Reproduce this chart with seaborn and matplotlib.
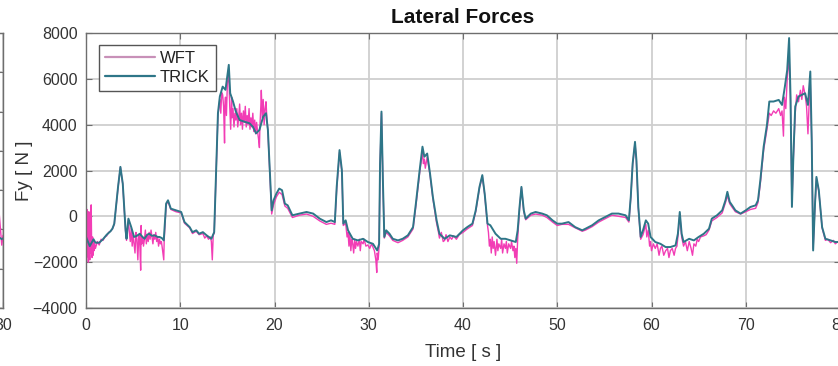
import matplotlib
matplotlib.use("Agg")
import matplotlib.pyplot as plt
import seaborn as sns

# ---------------- data ----------------
trick_t = [
    0.0, 0.4, 0.8, 1.0, 1.4, 1.8, 2.2, 2.6, 2.8, 3.0,
    3.4, 3.65, 3.9, 4.2, 4.3, 4.5, 4.8, 5.1, 5.4, 5.7,
    6.0, 6.2, 6.5, 6.7, 7.0, 7.3, 7.6, 7.8, 8.05, 8.25,
    8.5, 8.7, 9.0, 9.55, 10.1, 10.45, 11.0, 11.3, 11.7, 12.0,
    12.4, 12.8, 13.3, 13.6, 13.8, 14.0, 14.2, 14.5, 14.8, 15.15,
    15.3, 15.6, 15.9, 16.3, 16.8, 17.35, 17.7, 18.05, 18.4, 18.8,
    19.1, 19.3, 19.5, 19.7, 19.9, 20.2, 20.5, 20.8, 21.1, 21.4,
    21.9, 22.65, 23.4, 24.1, 24.8, 25.5, 26.0, 26.4, 26.6, 26.9,
    27.15, 27.3, 27.55, 27.8, 28.3, 28.85, 29.4, 29.9, 30.45, 30.9,
    31.1, 31.2, 31.35, 31.5, 31.65, 31.85, 32.2, 32.55, 33.1, 33.6,
    34.15, 34.7, 35.0, 35.4, 35.7, 35.9, 36.2, 36.5, 36.8, 37.2,
    37.5, 38.05, 38.6, 39.3, 40.0, 40.45, 41.0, 41.35, 41.75, 42.05,
    42.3, 42.6, 42.9, 43.45, 44.0, 44.5, 45.05, 45.6, 45.8, 46.0,
    46.2, 46.45, 46.65, 47.2, 47.7, 48.4, 48.9, 49.5, 50.0, 50.5,
    51.2, 51.9, 52.65, 53.0, 53.7, 54.4, 55.1, 55.8, 56.5, 57.25,
    57.6, 57.8, 58.0, 58.25, 58.4, 58.6, 58.85, 59.1, 59.4, 59.65,
    59.9, 60.4, 60.95, 61.5, 62.0, 62.55, 62.8, 63.0, 63.2, 63.4,
    64.0, 64.5, 65.0, 65.55, 66.1, 66.4, 66.95, 67.5, 67.85, 68.05,
    68.3, 68.55, 68.9, 69.45, 70.0, 70.5, 71.05, 71.3, 71.55, 71.9,
    72.25, 72.5, 72.95, 73.5, 73.85, 74.15, 74.4, 74.6, 74.75, 74.9,
    75.05, 75.25, 75.6, 75.95, 76.3, 76.6, 76.85, 77.0, 77.15, 77.35,
    77.5, 77.75, 78.1, 78.45, 79.0, 79.5, 80.0,
]
trick_fy = [
    -900, -1300, -1000, -1150, -1150, -1000, -800, -650, -540, -320,
    1285, 2160, 1430, -610, -980, -100, -470, -900, -850, -760,
    -900, -980, -800, -760, -850, -830, -900, -900, -950, -1050,
    555, 700, 335, 260, 190, -250, -470, -690, -610, -760,
    -690, -830, -980, -690, 1870, 4500, 5230, 5660, 5520, 6610,
    5370, 5010, 4570, 4200, 4130, 4060, 3910, 3620, 3770, 4350,
    4500, 3770, 2010, 260, 700, 990, 1210, 1140, 555, 480,
    45, 120, 190, 120, -100, -250, -175, -250, 1285, 2890,
    2010, -320, -175, -610, -980, -1050, -980, -1120, -1200, -1490,
    -1200, 2300, 4570, 1580, -900, -610, -760, -980, -1050, -980,
    -830, -470, 555, 2010, 3040, 2600, 2740, 1870, 850, -175,
    -760, -980, -830, -900, -610, -470, -320, 260, 1285, 1800,
    990, -320, -390, -760, -980, -980, -1050, -1120, -610, 410,
    1285, 260, -100, 120, 190, 120, 45, -175, -320, -320,
    -250, -470, -610, -540, -390, -175, -30, 120, 120, 45,
    -175, 850, 2300, 3250, 2450, 410, -900, -610, -175, -320,
    -900, -1120, -1200, -1340, -1340, -1270, -760, 190, -760, -1120,
    -980, -1050, -900, -760, -540, -100, 45, 260, 700, 1070,
    630, 480, 260, 120, 260, 410, 480, 700, 1580, 3040,
    3990, 5010, 5010, 5080, 4860, 5660, 6390, 7780, 5230, 410,
    2600, 4790, 5230, 5300, 5370, 4860, 6320, 3330, -1490, 555,
    1720, 1140, -470, -980, -1050, -1120, -1120,
]

wft_t = [
    0.0, 0.05, 0.1, 0.15, 0.2, 0.25, 0.3, 0.35, 0.4, 0.45,
    0.5, 0.55, 0.6, 0.65, 0.7, 0.75, 0.8, 0.85, 0.9, 1.0,
    1.2, 1.4, 1.6, 1.8, 2.0, 2.2, 2.4, 2.6, 2.8, 3.0,
    3.4, 3.65, 3.9, 4.2, 4.3, 4.5, 4.6, 4.7, 4.8, 4.9,
    5.0, 5.1, 5.2, 5.3, 5.4, 5.5, 5.6, 5.7, 5.8, 5.85,
    5.9, 6.0, 6.1, 6.2, 6.3, 6.4, 6.5, 6.6, 6.7, 6.8,
    6.9, 7.0, 7.1, 7.2, 7.3, 7.4, 7.5, 7.6, 7.7, 7.8,
    7.9, 8.0, 8.1, 8.25, 8.3, 8.5, 8.7, 9.0, 9.55, 10.1,
    10.45, 11.0, 11.3, 11.7, 12.0, 12.4, 12.6, 12.8, 13.0, 13.2,
    13.3, 13.4, 13.5, 13.6, 13.8, 14.0, 14.2, 14.3, 14.4, 14.5,
    14.6, 14.7, 14.75, 14.8, 14.9, 15.0, 15.15, 15.25, 15.35, 15.45,
    15.5, 15.6, 15.7, 15.8, 15.9, 16.0, 16.1, 16.2, 16.3, 16.4,
    16.5, 16.6, 16.7, 16.8, 16.9, 17.0, 17.1, 17.2, 17.3, 17.4,
    17.5, 17.6, 17.7, 17.8, 17.9, 18.0, 18.1, 18.2, 18.3, 18.4,
    18.45, 18.55, 18.6, 18.7, 18.8, 18.9, 19.0, 19.1, 19.2, 19.3,
    19.5, 19.7, 19.9, 20.2, 20.5, 20.8, 21.1, 21.4, 21.9, 22.65,
    23.4, 24.1, 24.8, 25.5, 26.0, 26.4, 26.6, 26.9, 27.15, 27.3,
    27.55, 27.7, 27.8, 27.9, 28.0, 28.1, 28.2, 28.3, 28.4, 28.5,
    28.6, 28.7, 28.85, 29.0, 29.1, 29.2, 29.4, 29.5, 29.7, 29.9,
    30.1, 30.3, 30.45, 30.6, 30.75, 30.85, 30.9, 31.0, 31.1, 31.2,
    31.35, 31.5, 31.65, 31.85, 32.2, 32.55, 33.1, 33.6, 34.15, 34.7,
    35.0, 35.4, 35.7, 35.8, 35.9, 36.0, 36.2, 36.5, 36.8, 37.2,
    37.4, 37.5, 37.7, 37.9, 38.05, 38.2, 38.4, 38.6, 38.8, 39.0,
    39.3, 39.6, 40.0, 40.45, 41.0, 41.35, 41.75, 42.05, 42.3, 42.6,
    42.7, 42.8, 42.9, 43.0, 43.1, 43.2, 43.3, 43.45, 43.6, 43.7,
    43.8, 44.0, 44.1, 44.2, 44.35, 44.5, 44.6, 44.7, 44.85, 45.05,
    45.15, 45.3, 45.4, 45.5, 45.6, 45.7, 45.8, 46.0, 46.2, 46.45,
    46.65, 47.2, 47.7, 48.4, 48.9, 49.5, 50.0, 50.5, 51.2, 51.9,
    52.65, 53.0, 53.7, 54.4, 55.1, 55.8, 56.5, 57.25, 57.6, 57.8,
    58.0, 58.25, 58.4, 58.6, 58.85, 59.1, 59.4, 59.5, 59.65, 59.8,
    59.9, 60.0, 60.2, 60.4, 60.6, 60.8, 60.95, 61.1, 61.3, 61.5,
    61.7, 61.85, 62.0, 62.2, 62.4, 62.55, 62.7, 62.8, 63.0, 63.2,
    63.4, 63.6, 63.8, 64.0, 64.2, 64.35, 64.5, 64.7, 64.85, 65.0,
    65.2, 65.55, 65.8, 66.1, 66.4, 66.95, 67.5, 67.85, 68.05, 68.3,
    68.55, 68.9, 69.45, 70.0, 70.5, 71.05, 71.3, 71.55, 71.9, 72.25,
    72.5, 72.7, 72.95, 73.2, 73.5, 73.7, 73.85, 74.0, 74.1, 74.25,
    74.4, 74.6, 74.75, 74.9, 75.05, 75.25, 75.4, 75.6, 75.8, 75.95,
    76.1, 76.3, 76.45, 76.6, 76.75, 76.85, 77.0, 77.15, 77.35, 77.5,
    77.75, 78.1, 78.45, 78.7, 79.0, 79.3, 79.5, 79.8, 80.0,
]
wft_fy = [
    -500, -1800, 300, -1500, -600, -2000, 200, -1200, -1900, -400,
    -1600, 500, -1300, -1800, -900, -1700, -1100, -1500, -1200, -1400,
    -1100, -1250, -1000, -1050, -900, -850, -700, -650, -550, -350,
    1250, 2150, 1400, -650, -1050, -150, -700, -1100, -500, -1300,
    -800, -1200, -1600, -700, -1000, -1900, -800, -1100, -2350, -400,
    -1200, -900, -1300, -1000, -600, -1200, -800, -1100, -700, -1000,
    -600, -900, -1200, -800, -1000, -700, -1100, -900, -1300, -1000,
    -1200, -1100, -1400, -1900, -1000, 500, 650, 300, 200, 150,
    -300, -500, -750, -650, -800, -750, -950, -850, -1000, -900,
    -1100, -1900, -800, -750, 1800, 4400, 5100, 4500, 5400, 5300,
    4800, 3200, 5000, 5200, 4400, 5800, 6200, 4800, 3800, 5200,
    4300, 4700, 3900, 4500, 4200, 4700, 3900, 4300, 4900, 4000,
    4500, 3800, 4600, 4100, 4800, 3900, 4400, 4000, 4700, 3800,
    4300, 3900, 4500, 3700, 4200, 3600, 4100, 3700, 3400, 3000,
    3900, 4800, 5500, 4300, 5100, 4000, 4700, 5000, 4200, 3700,
    1900, 100, 500, 850, 1050, 950, 450, 350, -50, 50,
    100, 0, -200, -350, -300, -350, 1200, 2800, 1950, -400,
    -300, -900, -700, -1300, -800, -1500, -1000, -1200, -1600, -1000,
    -1400, -1100, -1300, -1000, -1500, -1100, -1200, -1000, -1300, -1250,
    -1400, -1200, -1350, -1500, -1900, -2450, -1600, -1900, -1300, 2200,
    4500, 1500, -950, -700, -850, -1050, -1150, -1050, -900, -550,
    450, 1900, 2800, 2300, 2500, 2100, 2600, 1800, 800, -300,
    -700, -950, -700, -1100, -1050, -800, -1100, -900, -1000, -850,
    -1000, -800, -700, -550, -400, 200, 1250, 1750, 950, -400,
    -700, -1300, -1000, -1600, -900, -1400, -1100, -1700, -1000, -1500,
    -1200, -1400, -1000, -1600, -1200, -1400, -1100, -1600, -1200, -1400,
    -1100, -1500, -1300, -1800, -1400, -2050, -1000, 350, 1250, 200,
    -150, 50, 100, 50, -50, -250, -400, -350, -350, -500,
    -650, -600, -450, -250, -100, 50, 0, -50, -250, 800,
    2250, 3200, 2400, 350, -1000, -800, -350, -900, -600, -1300,
    -1100, -1500, -1200, -1400, -1200, -1700, -1400, -1300, -1700, -1500,
    -1400, -1800, -1500, -1400, -1700, -1400, -1300, -900, 100, -900,
    -1300, -1100, -1500, -1100, -1400, -1700, -1200, -1300, -1000, -1100,
    -900, -850, -800, -600, -200, -50, 150, 600, 900, 550,
    400, 200, 100, 200, 300, 350, 600, 1450, 2900, 3800,
    4500, 4400, 4600, 4500, 4700, 4400, 4600, 3500, 5200, 4700,
    6000, 7000, 5000, 500, 2500, 4500, 5300, 5000, 5500, 5100,
    5700, 5300, 4800, 3600, 5200, 5800, 3200, -1400, 500, 1650,
    1100, -500, -1050, -1000, -1150, -1050, -1200, -1100, -1200,
]

# neighbouring (cropped) subplot on the left: only its last samples are visible
left_t = [28.6, 28.9, 29.2, 29.4, 29.6, 29.75, 29.85, 29.95, 30.0]
left_wft = [-2300, -2700, -2100, -2900, -1500, -3000, -1200, -2800, -2300]
left_trick = [-2400, -2600, -2400, -2500, -2300, -2600, -2400, -2500, -2450]

x_ticks = [0, 10, 20, 30, 40, 50, 60, 70, 80]
y_ticks = [-4000, -2000, 0, 2000, 4000, 6000, 8000]
series_names = ["WFT", "TRICK"]
title_text = "Lateral Forces"
x_label = "Time [ s ]"
y_label = "Fy [ N ]"

# ---------------- styling ----------------
sns.set_theme(style="white")
plt.rcParams["font.family"] = ["Liberation Sans", "DejaVu Sans"]

WFT_COLOR = "#F23DB5"
TRICK_COLOR = "#2E7688"
SPINE = "#6e6e6e"
GRID = "#cfcfcf"
TXT = "#333333"

W, H = 838, 366
fig = plt.figure(figsize=(W / 100, H / 100), dpi=100)

ax_left_px, ax_right_px, ax_top_px, ax_bot_px = 86, 840, 33, 308
ax = fig.add_axes([ax_left_px / W, 1 - ax_bot_px / H,
                   (ax_right_px - ax_left_px) / W, (ax_bot_px - ax_top_px) / H])

# cropped neighbour axes
axl = fig.add_axes([(3 - 754) / W, 1 - ax_bot_px / H, 754 / W, (ax_bot_px - ax_top_px) / H])


def style_axes(a):
    for s in a.spines.values():
        s.set_color(SPINE)
        s.set_linewidth(1.0)
        s.set_visible(True)
    a.grid(True, color=GRID, linewidth=1.3)
    a.set_axisbelow(True)
    a.tick_params(direction="in", length=4, width=0.8, color=SPINE,
                  labelcolor=TXT, labelsize=11.5, top=True, right=True,
                  bottom=True, left=True)


# left (cropped) subplot
sns.lineplot(x=left_t, y=left_wft, ax=axl, color=WFT_COLOR, linewidth=1.0,
             sort=False, estimator=None)
sns.lineplot(x=left_t, y=left_trick, ax=axl, color=TRICK_COLOR, linewidth=1.3,
             sort=False, estimator=None)
axl.set_xlim(0, 30)
axl.set_ylim(-6000, 8000)
axl.set_xticks([0, 10, 20, 30])
axl.set_yticks([-6000, -4000, -2000, 0, 2000, 4000, 6000, 8000])
style_axes(axl)
axl.tick_params(axis="x", pad=7)

# main subplot
sns.lineplot(x=wft_t, y=wft_fy, ax=ax, color=WFT_COLOR, linewidth=1.0,
             sort=False, estimator=None, label=series_names[0])
sns.lineplot(x=trick_t, y=trick_fy, ax=ax, color=TRICK_COLOR, linewidth=1.4,
             sort=False, estimator=None, label=series_names[1])
ax.set_xlim(0, 80)
ax.set_ylim(-4000, 8000)
ax.set_xticks(x_ticks)
ax.set_yticks(y_ticks)
style_axes(ax)
ax.tick_params(axis="y", pad=6)
ax.tick_params(axis="x", pad=7)

ax.set_title(title_text, fontsize=15, fontweight="bold", color="#111111", pad=7)
ax.set_xlabel(x_label, fontsize=13.5, color=TXT, labelpad=8)
ax.set_ylabel(y_label, fontsize=13.5, color=TXT)
ax.yaxis.set_label_coords((33 - ax_left_px) / (ax_right_px - ax_left_px), 0.5)

leg = ax.legend(loc="upper left", bbox_to_anchor=((99 - 86) / 754, 1 - (45 - 33) / 275),
                fontsize=12, frameon=True, fancybox=False, framealpha=1,
                borderaxespad=0, handlelength=3.0, handletextpad=0.3,
                borderpad=0.35, labelspacing=0.25, edgecolor="#555555")
leg.get_frame().set_linewidth(1.0)
for line, c in zip(leg.get_lines(), ["#C890B8", TRICK_COLOR]):
    line.set_color(c)
    line.set_linewidth(1.6)
for txt in leg.get_texts():
    txt.set_color("#222222")

fig.savefig("out.png", dpi=100)
